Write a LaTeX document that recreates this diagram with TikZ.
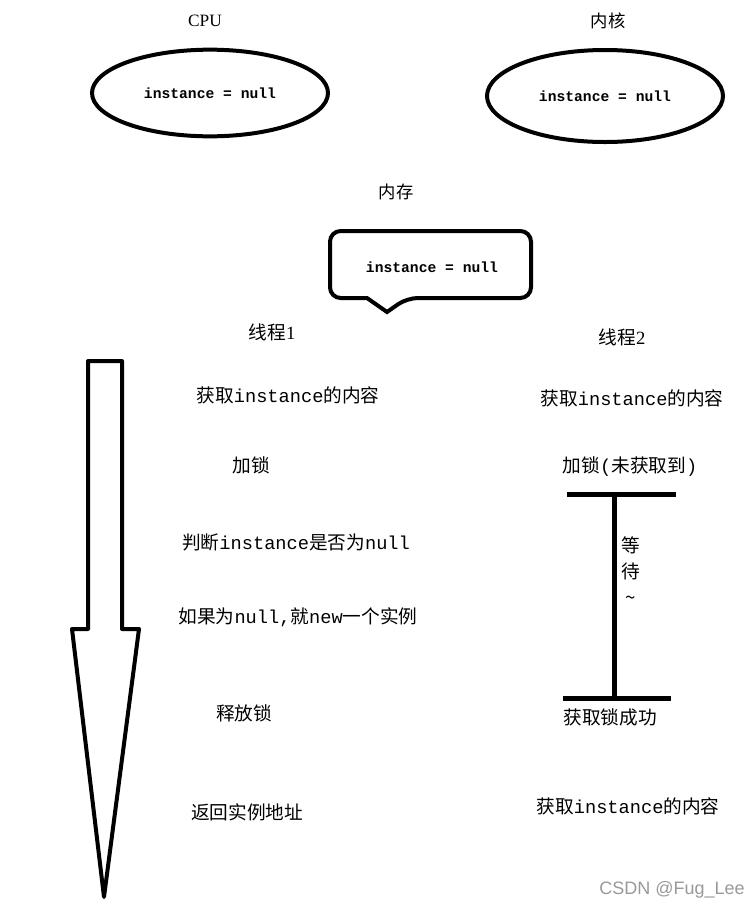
\documentclass[tikz,border=0pt]{standalone}
\usepackage{fontspec}
\setmainfont{Noto Sans CJK SC}
\setmonofont{Liberation Mono}
\newfontfamily\latfont{Liberation Serif}
\newfontfamily\markfont{Liberation Sans}
\usetikzlibrary{shapes.geometric}

\begin{document}
\begin{tikzpicture}[x=0.75pt,y=-0.75pt,
  txt/.style={inner sep=0pt,font=\fontsize{14}{19.5}\selectfont},
  head/.style={inner sep=0pt,font=\fontsize{13}{16}\selectfont},
  valtxt/.style={inner sep=0pt,font=\fontsize{11}{13}\ttfamily\bfseries},
  oval/.style={draw,ellipse,line width=3pt,minimum width=177pt,font=\fontsize{11}{13}\ttfamily\bfseries},
  bar/.style={line width=3.75pt}]
\useasboundingbox (0,0) rectangle (751,911);
\node[head] (cpu) at (205,21) {\latfont CPU};
\node[head] (kern) at (608,21) {内核};
\node[oval,minimum height=65pt] (cpuval) at (210,93) {instance = null};
\node[oval,minimum height=69pt] (kernval) at (605,96) {instance = null};
\node[head] (mem) at (396,192) {内存};
\draw[line width=3pt] (387,312) -- (367,298) [rounded corners=8pt] -- (330,298) -- (330,231)
  -- (531,231) -- (531,298) -- (407,298) [sharp corners] -- cycle;
\node[valtxt] (memval) at (432,267) {instance = null};
\draw[line width=3pt,line join=round] (88,629) -- (88,361) -- (122,361) -- (122,629)
  -- (139,629) -- (104,897) -- (72,629) -- cycle;
\node[txt] (t1) at (272,332) {线程\latfont 1};
\node[txt] (t1read) at (288,395) {获取\texttt{instance}的内容};
\node[txt] (t1lock) at (251,465) {加锁};
\node[txt] (t1check) at (296,542) {判断\texttt{instance}是否为\texttt{null}};
\node[txt] (t1new) at (298,617) {如果为\texttt{null,}就\texttt{new}一个实例};
\node[txt] (t1free) at (244,713) {释放锁};
\node[txt] (t1ret) at (247,812) {返回实例地址};
\node[txt] (t2) at (622,337) {线程\latfont 2};
\node[txt] (t2read) at (632,398) {获取\texttt{instance}的内容};
\node[txt] (t2lock) at (630,467) {加锁\texttt{(}未获取到\texttt{)}};
\coordinate (waittop) at (614,494);
\coordinate (waitend) at (614,698);
\draw[bar] (567,494) -- (676,494);
\draw[bar] (waittop) -- (waitend);
\draw[bar] (563,698) -- (671,698);
\node[txt,align=center] (wait) at (631,571) {等\\待\\\textasciitilde};
\node[txt] (t2got) at (610,717) {获取锁成功};
\node[txt] (t2read2) at (628,806) {获取\texttt{instance}的内容};
\node[inner sep=0pt,anchor=east,text=gray!80,font=\markfont\fontsize{13.5}{15}\selectfont] (mark) at (745,890) {CSDN @Fug\_Lee};
\end{tikzpicture}
\end{document}
